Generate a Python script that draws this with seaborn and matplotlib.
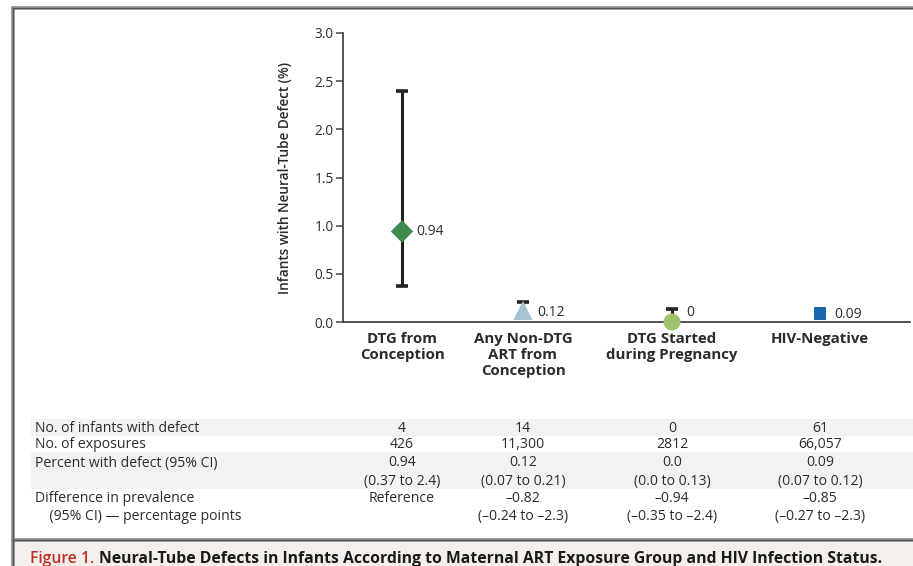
import matplotlib
matplotlib.use("Agg")
import matplotlib.pyplot as plt
import seaborn as sns
import pandas as pd
from matplotlib.patches import Rectangle
from matplotlib.lines import Line2D

# ---------------- data ----------------
groups = ["DTG from\nConception", "Any Non-DTG\nART from\nConception",
          "DTG Started\nduring Pregnancy", "HIV-Negative"]
group_keys = ["dtg_conc", "non_dtg", "dtg_preg", "hiv_neg"]
percent = [0.94, 0.12, 0.0, 0.09]
ci_low = [0.37, 0.07, 0.0, 0.07]
ci_high = [2.4, 0.21, 0.13, 0.12]
value_labels = ["0.94", "0.12", "0", "0.09"]

row_labels = ["No. of infants with defect", "No. of exposures",
              "Percent with defect (95% CI)", "Difference in prevalence\n    (95% CI) \u2014 percentage points"]
n_defect = ["4", "14", "0", "61"]
n_exposures = ["426", "11,300", "2812", "66,057"]
pct_text = ["0.94\n(0.37 to 2.4)", "0.12\n(0.07 to 0.21)", "0.0\n(0.0 to 0.13)", "0.09\n(0.07 to 0.12)"]
diff_text = ["Reference", "\u20130.82\n(\u20130.24 to \u20132.3)", "\u20130.94\n(\u20130.35 to \u20132.4)",
             "\u20130.85\n(\u20130.27 to \u20132.3)"]
yticks = [0.0, 0.5, 1.0, 1.5, 2.0, 2.5, 3.0]

# ---------------- layout / style ----------------
W, H = 913, 566
col_px = [402, 523, 672, 820]          # column centres in pixels
ax_left, ax_right, ax_y0, ax_y3 = 343, 910, 322, 33
label_y = [0.94, 0.094, 0.094, 0.075]
markers = {"dtg_conc": "D", "non_dtg": "^", "dtg_preg": "o", "hiv_neg": "s"}
colors = {"dtg_conc": "#3f8a4f", "non_dtg": "#a7c3d3", "dtg_preg": "#9cc46a", "hiv_neg": "#1768ad"}
sizes = {"dtg_conc": 130, "non_dtg": 190, "dtg_preg": 150, "hiv_neg": 85}

FONT = "Open Sans"
TXT = "#2b2b2b"

def fx(x):
    return x / W

def fy(y):
    return 1 - y / H

sns.set_theme(style="white")
plt.rcParams["font.family"] = [FONT, "DejaVu Sans"]

fig = plt.figure(figsize=(W / 100, H / 100), dpi=100)
fig.patch.set_facecolor("white")

# frame & caption band
fig.patches.append(Rectangle((fx(13), 0), 1 - fx(13), fy(541), transform=fig.transFigure,
                             facecolor="#f3efea", edgecolor="none", zorder=0))
for (x0, y0, x1, y1) in [(13, 8, 913, 8), (13, 8, 13, 566), (13, 540, 913, 540)]:
    fig.lines.append(Line2D([fx(x0), fx(x1)], [fy(y0), fy(y1)], transform=fig.transFigure,
                            color="#8a8a8a", lw=2.6, zorder=1))
    fig.lines.append(Line2D([fx(x0), fx(x1)], [fy(y0), fy(y1)], transform=fig.transFigure,
                            color="#555555", lw=0.8, zorder=2))

# axes
ax = fig.add_axes([fx(ax_left), fy(ax_y0), (ax_right - ax_left) / W, (ax_y0 - ax_y3) / H])
ax.set_facecolor("none")
xpos = [c - ax_left for c in col_px]
ax.set_xlim(0, ax_right - ax_left)
ax.set_ylim(0, 3.0)

df = pd.DataFrame({"x": xpos, "y": percent, "key": group_keys})

# error bars
for i in range(len(percent)):
    ax.errorbar(xpos[i], percent[i], yerr=[[percent[i] - ci_low[i]], [ci_high[i] - percent[i]]],
                fmt="none", ecolor="#222222", elinewidth=2.2, capsize=4.5, capthick=2.6, zorder=2,
                clip_on=False)

for k in group_keys:
    sub = df[df["key"] == k]
    sns.scatterplot(data=sub, x="x", y="y", marker=markers[k], color=colors[k], s=sizes[k],
                    edgecolor="none", linewidth=0, ax=ax, zorder=3, clip_on=False, legend=False)

for i, lab in enumerate(value_labels):
    ax.annotate(lab, (xpos[i], label_y[i]), xytext=(10, 0), textcoords="offset points",
                ha="left", va="center", fontsize=10, color=TXT, family=[FONT, "DejaVu Sans"])

sns.despine(ax=ax, top=True, right=True)
for s in ["left", "bottom"]:
    ax.spines[s].set_color("#444444")
    ax.spines[s].set_linewidth(1.3)
ax.set_yticks(yticks)
ax.set_yticklabels([f"{t:.1f}" for t in yticks], fontsize=9.8, color=TXT)
ax.tick_params(axis="y", direction="out", length=5, width=1.1, color="#444444", pad=1.5, left=True)
ax.set_xticks(xpos)
ax.set_xticklabels(groups, fontsize=10.8, fontweight="bold", color=TXT, linespacing=1.18)
ax.tick_params(axis="x", length=0, pad=7.5)
ax.set_xlabel("")
ax.set_ylabel("Infants with Neural-Tube Defect (%)", fontsize=9.8, fontweight="semibold", color=TXT)
ax.yaxis.set_label_coords((292 - ax_left) / (ax_right - ax_left), 0.5)
ax.grid(False)

# table shading
for (y0, y1) in [(419, 436), (452, 489)]:
    fig.patches.append(Rectangle((fx(31), fy(y1)), 1 - fx(31), (y1 - y0) / H, transform=fig.transFigure,
                                 facecolor="#f2f2f2", edgecolor="none", zorder=0))

row_y = [427, 443, 462, 497]
tfs = 10.1
for r, lab in enumerate(row_labels):
    fig.text(fx(35), fy(row_y[r] - 6.5), lab, ha="left", va="top", fontsize=tfs, color=TXT,
             linespacing=1.32)
for r, vals in enumerate([n_defect, n_exposures, pct_text, diff_text]):
    for c, v in enumerate(vals):
        fig.text(fx(col_px[c]), fy(row_y[r] - 6.5), v, ha="center", va="top", fontsize=tfs,
                 color=TXT, linespacing=1.32)

# caption
t1 = fig.text(fx(30), fy(559), "Figure 1.", ha="left", va="center", fontsize=11.3,
              color="#c0302b", fontweight="semibold")
fig.canvas.draw()
bb = t1.get_window_extent()
fig.text(bb.x1 / W + fx(5), fy(559),
         "Neural-Tube Defects in Infants According to Maternal ART Exposure Group and HIV Infection Status.",
         ha="left", va="center", fontsize=11.3, color="#1a1a1a", fontweight="bold")

fig.savefig("out.png", dpi=100)
